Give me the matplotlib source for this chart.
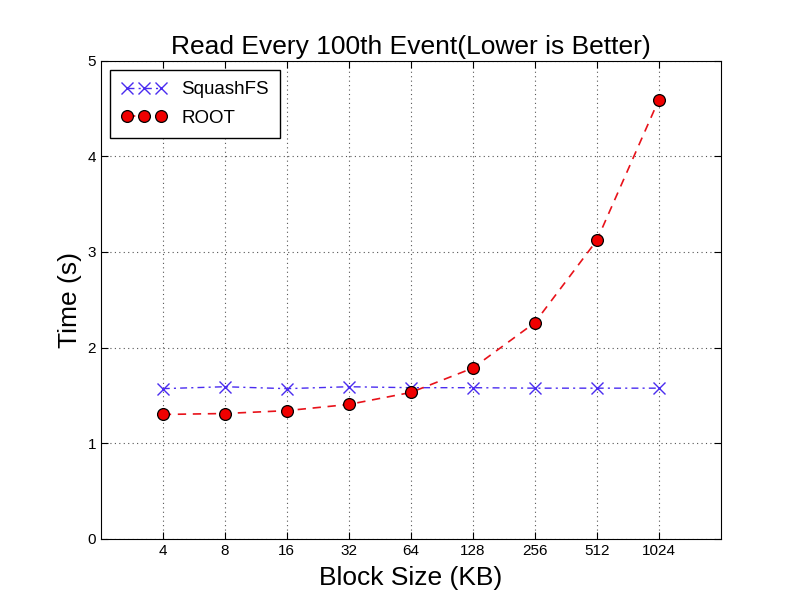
import matplotlib
matplotlib.use("Agg")
import matplotlib.pyplot as plt

plt.rcParams['font.family'] = ['Liberation Sans', 'DejaVu Sans']

# block sizes (KB) and read times (s)
block_sizes = ['4', '8', '16', '32', '64', '128', '256', '512', '1024']
squashfs = [1.57, 1.59, 1.57, 1.59, 1.58, 1.58, 1.575, 1.575, 1.575]
root = [1.30, 1.31, 1.34, 1.405, 1.53, 1.785, 2.26, 3.12, 4.59]

x = list(range(1, len(block_sizes) + 1))

fig = plt.figure(figsize=(8, 6), dpi=100)
ax = fig.add_axes([0.126, 0.102, 0.775, 0.797])

ax.plot(x, squashfs, linestyle=(0, (5, 3, 1.5, 3)), color='#4a2cf0', linewidth=1.0,
        marker='x', markersize=9, markeredgewidth=1.0, label='SquashFS')
ax.plot(x, root, linestyle=(0, (5, 4)), color='#e8121a', linewidth=1.2,
        marker='o', markersize=8.5, markerfacecolor='#f00000',
        markeredgecolor='black', markeredgewidth=0.9, label='ROOT')

ax.set_xlim(0, 10)
ax.set_ylim(0, 5)
ax.set_xticks(x)
ax.set_xticklabels(block_sizes)
ax.set_yticks(range(0, 6))
ax.tick_params(direction='in', top=True, right=True, labelsize=11, length=5)
ax.grid(True, linestyle=(0, (1, 3)), color='#555555', linewidth=0.8)

ax.set_title('Read Every 100th Event(Lower is Better)', fontsize=19, pad=5)
ax.set_xlabel('Block Size (KB)', fontsize=19, labelpad=6)
ax.set_ylabel('Time (s)', fontsize=19, labelpad=4)

leg = ax.legend(loc='upper left', numpoints=3, fontsize=13.5, fancybox=False,
                framealpha=1, edgecolor='black', handlelength=2.4,
                borderpad=0.6, labelspacing=0.6)
leg.get_frame().set_linewidth(1.0)

fig.savefig('out.png', dpi=100)
